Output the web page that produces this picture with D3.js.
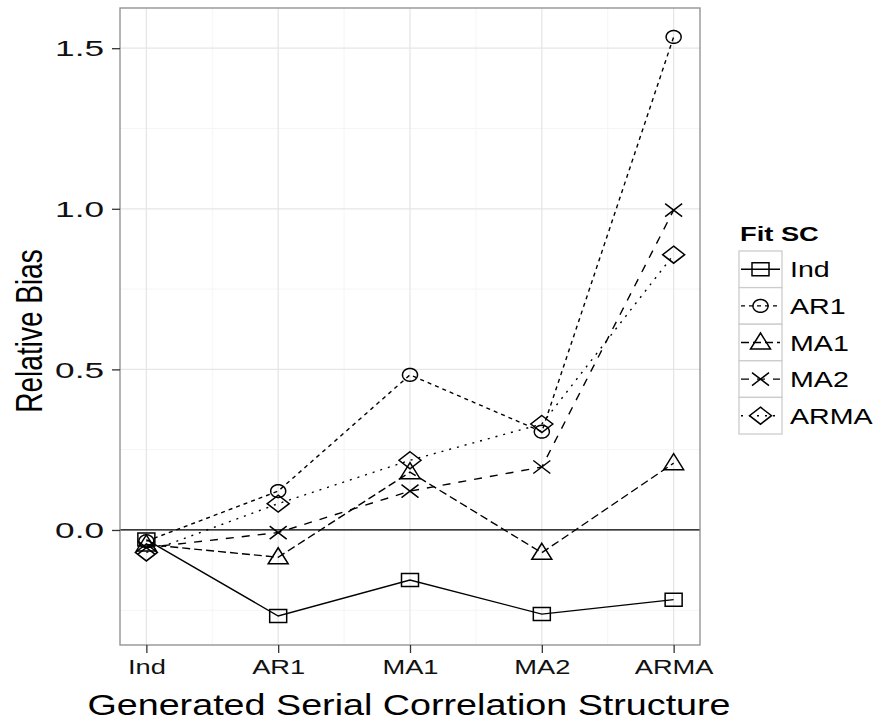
<!DOCTYPE html>
<html>
<head>
<meta charset="utf-8">
<script src="https://cdn.jsdelivr.net/npm/d3@7"></script>
<style>
  html, body { margin: 0; padding: 0; background: #fff; }
  svg { display: block; }
  text { font-family: "Liberation Sans", Arial, sans-serif; }
</style>
</head>
<body>
<svg id="chart" width="877" height="721"></svg>
<script>
// ---- data ----
const categories = ["Ind", "AR1", "MA1", "MA2", "ARMA"];
const fitNames = ["Ind", "AR1", "MA1", "MA2", "ARMA"];
const indValues  = [-0.030, -0.268, -0.156, -0.262, -0.217];
const ar1Values  = [-0.035,  0.121,  0.483,  0.306,  1.535];
const ma1Values  = [-0.045, -0.085,  0.180, -0.071,  0.208];
const ma2Values  = [-0.055, -0.008,  0.121,  0.196,  0.996];
const armaValues = [-0.070,  0.082,  0.217,  0.330,  0.857];
const yTicks = [0, 0.5, 1.0, 1.5];
const yMinor = [-0.25, 0.25, 0.75, 1.25];

const seriesValues = [indValues, ar1Values, ma1Values, ma2Values, armaValues];
const shapes = ["square", "circle", "triangle", "cross", "diamond"];
const dashes = [null, "4,4", "8,4", "8,8", "2,6"];

// the reference image is horizontally stretched; text gets the same stretch
const SX = 1.3;
const SXY = 1.6; // y tick digits look wider still

// ---- layout ----
const svg = d3.select("#chart");
const panel = { left: 120, right: 700, top: 8, bottom: 645 };

const allVals = seriesValues.flat().concat([0]);
const yMin = d3.min(allVals), yMax = d3.max(allVals);
const yPad = (yMax - yMin) * 0.05;
const y = d3.scaleLinear().domain([yMin - yPad, yMax + yPad]).range([panel.bottom, panel.top]);
const x = d3.scaleLinear().domain([1 - 0.2, categories.length + 0.2]).range([panel.left, panel.right]);

// panel background + grid
const g = svg.append("g");
g.append("rect").attr("x", panel.left).attr("y", panel.top)
  .attr("width", panel.right - panel.left).attr("height", panel.bottom - panel.top)
  .attr("fill", "#fff");

const xMinor = d3.range(1.5, categories.length, 1);
g.selectAll(".ymin").data(yMinor).join("line")
  .attr("x1", panel.left).attr("x2", panel.right)
  .attr("y1", d => y(d)).attr("y2", d => y(d))
  .attr("stroke", "#f5f5f5").attr("stroke-width", 1);
g.selectAll(".xmin").data(xMinor).join("line")
  .attr("y1", panel.top).attr("y2", panel.bottom)
  .attr("x1", d => x(d)).attr("x2", d => x(d))
  .attr("stroke", "#f5f5f5").attr("stroke-width", 1);
g.selectAll(".ymaj").data(yTicks).join("line")
  .attr("x1", panel.left).attr("x2", panel.right)
  .attr("y1", d => y(d)).attr("y2", d => y(d))
  .attr("stroke", "#e6e6e6").attr("stroke-width", 1.3);
g.selectAll(".xmaj").data(categories).join("line")
  .attr("y1", panel.top).attr("y2", panel.bottom)
  .attr("x1", (d, i) => x(i + 1)).attr("x2", (d, i) => x(i + 1))
  .attr("stroke", "#e6e6e6").attr("stroke-width", 1.3);

// zero line
g.append("line").attr("x1", panel.left).attr("x2", panel.right)
  .attr("y1", y(0)).attr("y2", y(0)).attr("stroke", "#000").attr("stroke-width", 1.3);

// shape generator (slightly wide shapes)
function shapePath(type, s) {
  const p = d3.path();
  if (type === "square") {
    const w = 8.5 * s, h = 6.5 * s;
    p.rect(-w, -h, 2 * w, 2 * h);
  } else if (type === "circle") {
    const rx = 7.5 * s, ry = 6.4 * s;
    p.moveTo(rx, 0);
    for (let a = 0; a <= 64; a++) {
      const t = a / 64 * Math.PI * 2;
      p.lineTo(rx * Math.cos(t), ry * Math.sin(t));
    }
    p.closePath();
  } else if (type === "triangle") {
    const w = 10 * s;
    p.moveTo(0, -9.5 * s); p.lineTo(w, 6.5 * s); p.lineTo(-w, 6.5 * s); p.closePath();
  } else if (type === "cross") {
    const w = 8.5 * s, h = 6.5 * s;
    p.moveTo(-w, -h); p.lineTo(w, h); p.moveTo(-w, h); p.lineTo(w, -h);
  } else if (type === "diamond") {
    const w = 11 * s, h = 8.5 * s;
    p.moveTo(0, -h); p.lineTo(w, 0); p.lineTo(0, h); p.lineTo(-w, 0); p.closePath();
  }
  return p.toString();
}

// lines
const line = d3.line().x((d, i) => x(i + 1)).y(d => y(d));
svg.append("clipPath").attr("id", "clip").append("rect")
  .attr("x", panel.left).attr("y", panel.top)
  .attr("width", panel.right - panel.left).attr("height", panel.bottom - panel.top);
const dataG = svg.append("g").attr("clip-path", "url(#clip)");
seriesValues.forEach((vals, si) => {
  dataG.append("path").datum(vals).attr("d", line)
    .attr("fill", "none").attr("stroke", "#000").attr("stroke-width", 1.4)
    .attr("stroke-dasharray", dashes[si]);
});
seriesValues.forEach((vals, si) => {
  dataG.selectAll(".pt" + si).data(vals).join("path")
    .attr("transform", (d, i) => `translate(${x(i + 1)},${y(d)})`)
    .attr("d", shapePath(shapes[si], 1))
    .attr("fill", "none").attr("stroke", "#000").attr("stroke-width", 1.5);
});

// panel border
svg.append("rect").attr("x", panel.left).attr("y", panel.top)
  .attr("width", panel.right - panel.left).attr("height", panel.bottom - panel.top)
  .attr("fill", "none").attr("stroke", "#8c8c8c").attr("stroke-width", 1.3);

// axes
const yAxis = d3.axisLeft(y).tickValues(yTicks).tickFormat(d3.format(".1f")).tickSize(8).tickPadding(0);
const yAx = svg.append("g").attr("transform", `translate(${panel.left},0)`).call(yAxis);
yAx.select(".domain").remove();
yAx.selectAll(".tick line").attr("stroke", "#333").attr("stroke-width", 1.3);
yAx.selectAll(".tick text").attr("font-size", 22).attr("fill", "#111")
  .attr("font-family", "Liberation Sans, Arial, sans-serif")
  .attr("x", 0).attr("dy", "0.35em")
  .attr("transform", `translate(-16,0) scale(${SXY},1)`);

const xAxis = d3.axisBottom(x).tickValues(d3.range(1, categories.length + 1))
  .tickFormat(d => categories[d - 1]).tickSize(8).tickPadding(6);
const xAx = svg.append("g").attr("transform", `translate(0,${panel.bottom})`).call(xAxis);
xAx.select(".domain").remove();
xAx.selectAll(".tick line").attr("stroke", "#333").attr("stroke-width", 1.3);
xAx.selectAll(".tick text").attr("font-size", 21).attr("fill", "#111")
  .attr("font-family", "Liberation Sans, Arial, sans-serif")
  .attr("transform", `scale(${SX},1)`);

// titles
svg.append("text").attr("transform", `translate(409,715) scale(${SX},1)`)
  .attr("text-anchor", "middle").attr("font-size", 29).attr("fill", "#000")
  .text("Generated Serial Correlation Structure");
svg.append("text").attr("transform", `translate(42,331) scale(${SX},1) rotate(-90)`)
  .attr("text-anchor", "middle").attr("font-size", 28).attr("fill", "#000")
  .text("Relative Bias");

// legend
const leg = svg.append("g");
leg.append("text").attr("transform", `translate(740,241) scale(${SX},1)`).attr("font-size", 21)
  .attr("font-weight", "bold").attr("fill", "#000").text("Fit SC");
const keyX = 739, keyY = 251, keyW = 43, keyH = 36.6;
fitNames.forEach((name, i) => {
  const ky = keyY + i * keyH;
  leg.append("rect").attr("x", keyX).attr("y", ky).attr("width", keyW).attr("height", keyH)
    .attr("fill", "#fff").attr("stroke", "#cccccc").attr("stroke-width", 1.3);
  leg.append("line").attr("x1", keyX + 2).attr("x2", keyX + keyW - 2)
    .attr("y1", ky + keyH / 2).attr("y2", ky + keyH / 2)
    .attr("stroke", "#000").attr("stroke-width", 1.4).attr("stroke-dasharray", dashes[i]);
  leg.append("path").attr("transform", `translate(${keyX + keyW / 2},${ky + keyH / 2})`)
    .attr("d", shapePath(shapes[i], 1)).attr("fill", "none").attr("stroke", "#000").attr("stroke-width", 1.5);
  leg.append("text").attr("transform", `translate(${keyX + keyW + 8},${ky + keyH / 2 + 8}) scale(${SX},1)`)
    .attr("font-size", 22).attr("fill", "#000").text(name);
});
</script>
</body>
</html>
